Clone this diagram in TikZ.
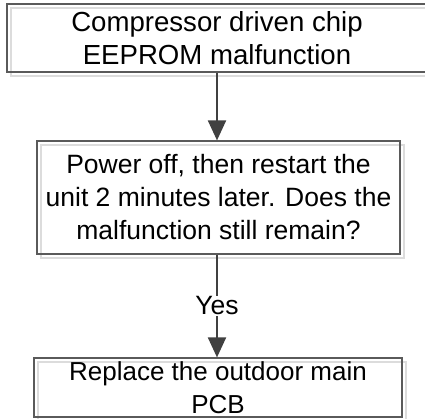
\documentclass[tikz,border=0pt]{standalone}
\usepackage{fontspec}
\setmainfont{Liberation Sans}
\usetikzlibrary{arrows.meta}
\definecolor{boxline}{HTML}{5A5A5A}
\definecolor{shadowline}{HTML}{DCDCDC}
\definecolor{arrowcol}{HTML}{404040}
\begin{document}
\begin{tikzpicture}[x=1bp,y=-1bp,
  flowbox/.style={draw=boxline, line width=1.2bp, inner sep=0pt, align=center,
    font=\fontsize{26.5bp}{33bp}\selectfont},
  boxshadow/.style={draw=shadowline, line width=1.2bp},
  flowarrow/.style={draw=arrowcol, line width=2bp, -{Triangle[width=18bp,length=20bp]}},
  arrowlabel/.style={fill=white, inner sep=1bp, font=\fontsize{26.5bp}{33bp}\selectfont}]
\useasboundingbox (0,0) rectangle (425,419);
% shadows
\draw[boxshadow] (11,8) rectangle (431,76);
\draw[boxshadow] (41,145) rectangle (404,258);
\draw[boxshadow] (38,362) rectangle (406,421);
% boxes
\node[flowbox, minimum width=420bp, minimum height=68bp,
  font=\fontsize{27.6bp}{33bp}\selectfont] (top) at (217,38)
  {Compressor driven chip\\EEPROM malfunction};
\node[flowbox, minimum width=363bp, minimum height=113bp] (mid) at (218.5,197.5)
  {Power off, then restart the\\unit 2 minutes later. Does the\\malfunction still remain?};
\node[flowbox, minimum width=368bp, minimum height=59bp,
  font=\fontsize{26bp}{33bp}\selectfont] (bot) at (218,387.5)
  {Replace the outdoor main\\PCB};
% connectors
\draw[flowarrow] (top.south) -- (top.south |- mid.north);
\draw[flowarrow] (top.south |- mid.south) -- node[arrowlabel] {Yes} (top.south |- bot.north);
\end{tikzpicture}
\end{document}
